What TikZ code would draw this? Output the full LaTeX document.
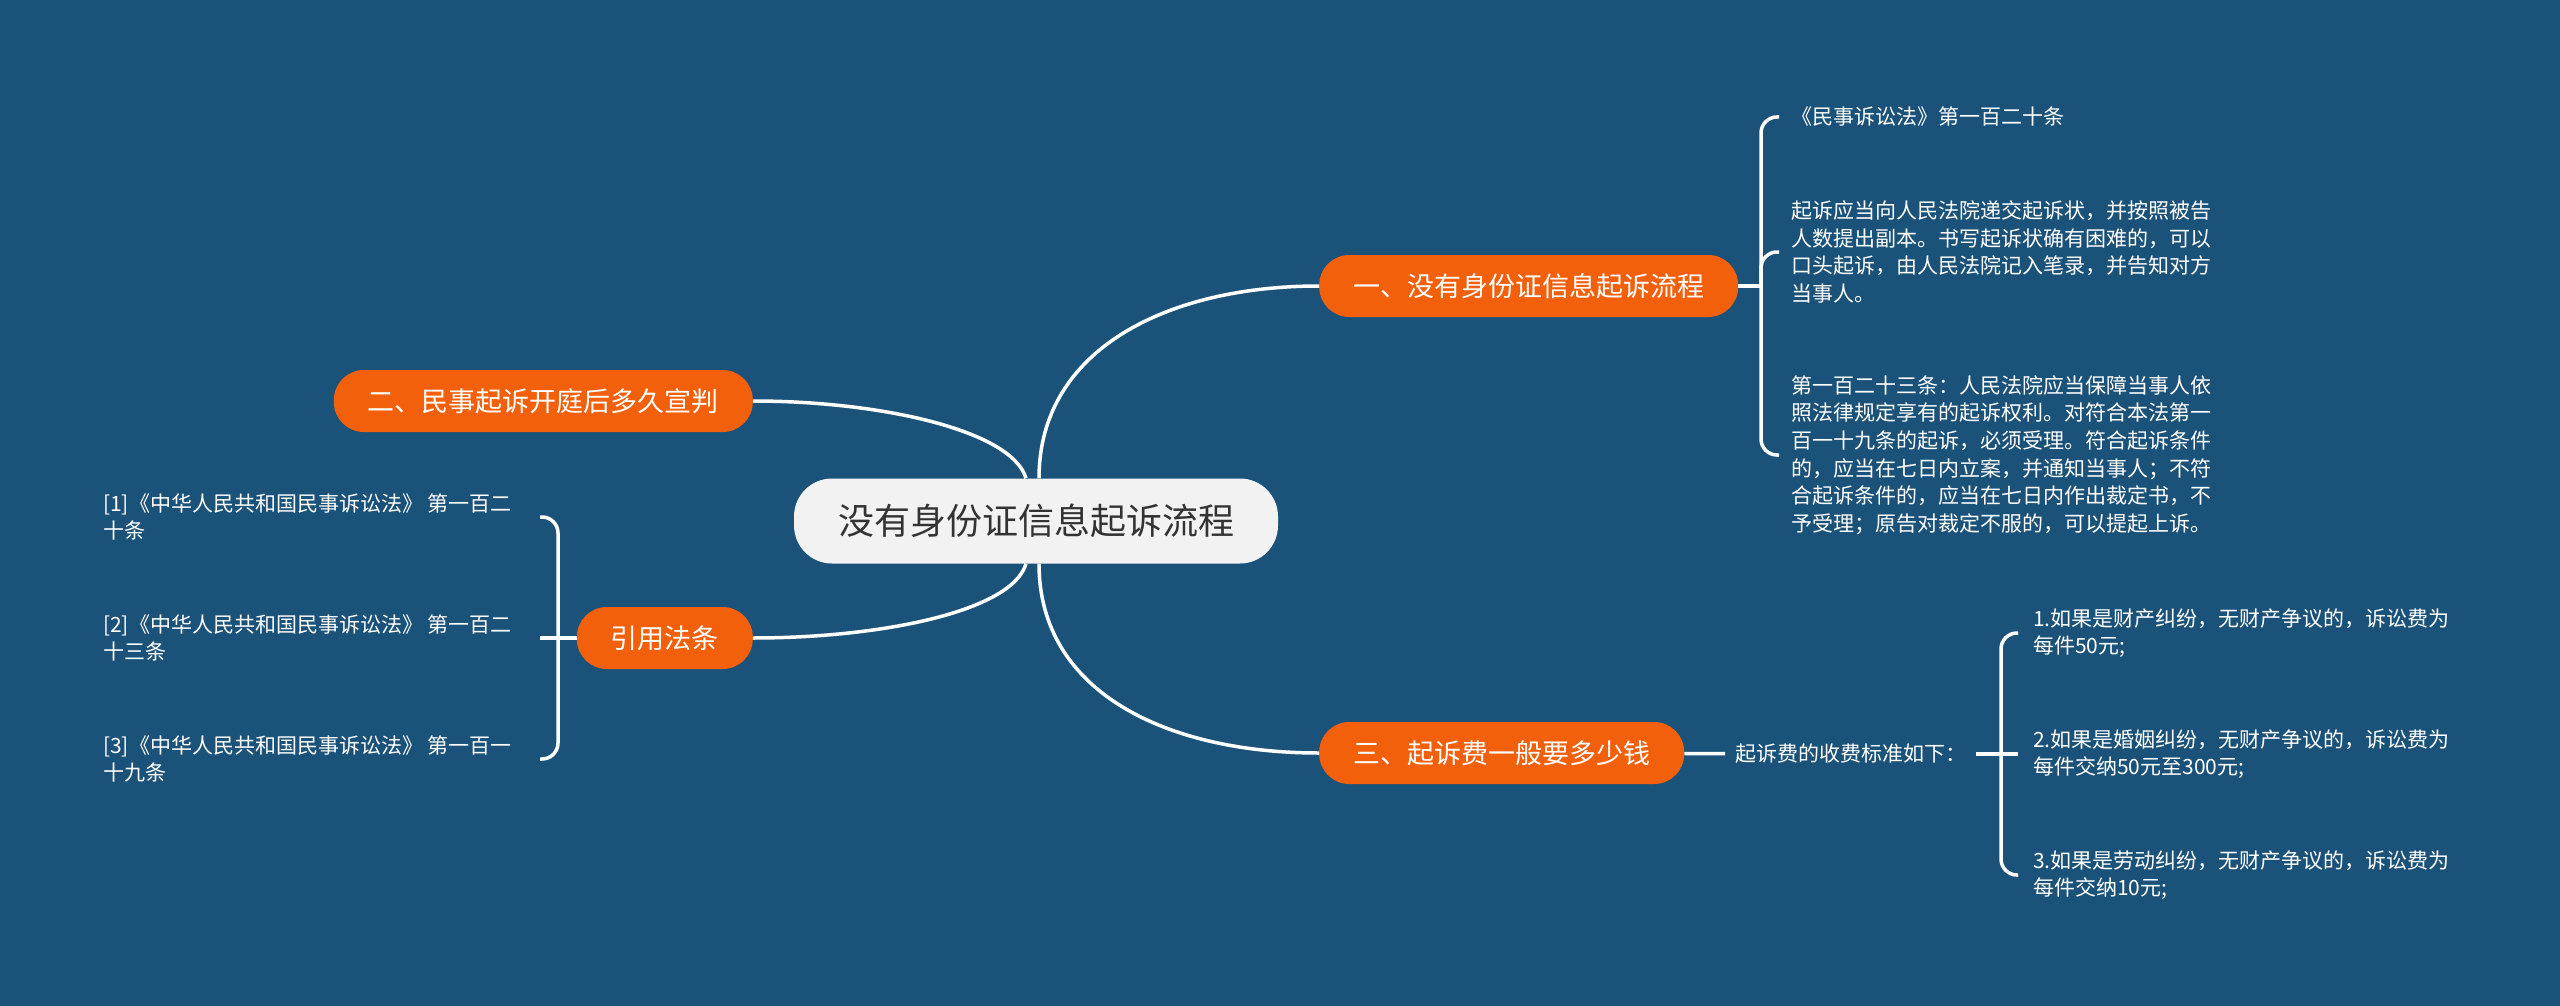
\documentclass[tikz,border=0pt]{standalone}
\usepackage{fontspec}
\setmainfont{Noto Sans CJK SC}
\usepackage{xcolor}
\usepackage{tikz}
\usetikzlibrary{positioning, calc}

\definecolor{fond}{HTML}{1B5279}
\definecolor{branche}{HTML}{F2600C}
\definecolor{racine}{HTML}{F2F2F2}
\definecolor{texte}{HTML}{333333}

\begin{document}
\begin{tikzpicture}[x=1pt, y=-1pt,
    root/.style={fill=racine, text=texte, rounded corners=38pt, minimum height=85pt, inner xsep=44pt, font=\fontsize{36}{40}\selectfont},
    topic/.style={fill=branche, text=white, rounded corners=30pt, minimum height=62pt, inner xsep=34pt, font=\fontsize{27}{30}\selectfont},
    leaf/.style={text=white, inner sep=0pt, anchor=west, align=left, font=\fontsize{21}{27.6}\selectfont},
    link/.style={draw=white, line width=3.5pt}]
    \useasboundingbox (0,0) rectangle (2560,1006);
    \fill[fond] (0,0) rectangle (2560,1006);

    % Noeud central
    \node[root] (root) at (1036,521) {没有身份证信息起诉流程};

    % Branches
    \node[topic, anchor=west] (b1) at (1319,286) {一、没有身份证信息起诉流程};
    \node[topic, anchor=east] (b2) at (753,401) {二、民事起诉开庭后多久宣判};
    \node[topic, anchor=east] (b4) at (753,638) {引用法条};
    \node[topic, anchor=west] (b3) at (1319,753) {三、起诉费一般要多少钱};

    % Feuilles (branche 1)
    \node[leaf] (p1) at (1791,117) {《民事诉讼法》第一百二十条};
    \node[leaf] (p2) at (1791,252) {起诉应当向人民法院递交起诉状，并按照被告\\人数提出副本。书写起诉状确有困难的，可以\\口头起诉，由人民法院记入笔录，并告知对方\\当事人。};
    \node[leaf] (p3) at (1791,455) {第一百二十三条：人民法院应当保障当事人依\\照法律规定享有的起诉权利。对符合本法第一\\百一十九条的起诉，必须受理。符合起诉条件\\的，应当在七日内立案，并通知当事人；不符\\合起诉条件的，应当在七日内作出裁定书，不\\予受理；原告对裁定不服的，可以提起上诉。};

    % Feuilles (引用法条)
    \node[leaf] (r1) at (103,517) {[1]《中华人民共和国民事诉讼法》 第一百二\\十条};
    \node[leaf] (r2) at (103,638) {[2]《中华人民共和国民事诉讼法》 第一百二\\十三条};
    \node[leaf] (r3) at (103,759) {[3]《中华人民共和国民事诉讼法》 第一百一\\十九条};

    % Feuilles (branche 3)
    \node[leaf, inner xsep=10pt] (s1) at (1725,754) {起诉费的收费标准如下：};
    \node[leaf] (c1) at (2033,633) {1.如果是财产纠纷，无财产争议的，诉讼费为\\每件50元;};
    \node[leaf] (c2) at (2033,754) {2.如果是婚姻纠纷，无财产争议的，诉讼费为\\每件交纳50元至300元;};
    \node[leaf] (c3) at (2033,875) {3.如果是劳动纠纷，无财产争议的，诉讼费为\\每件交纳10元;};

    % Points des accolades
    \coordinate (ak) at (1761,286);
    \coordinate (ax) at (1779,0);
    \coordinate (lk) at (558,638);
    \coordinate (lx) at (540,0);
    \coordinate (ck) at (2001,754);
    \coordinate (cx) at (2018,0);

    % Liens
    \draw[link] ([xshift=3pt]root.north) .. controls +(0,-130) and +(-150,0) .. (b1.west);
    \draw[link] ([xshift=-10pt]root.north) .. controls +(-14,-48) and +(127,0) .. (b2.east);
    \draw[link] ([xshift=-10pt]root.south) .. controls +(-14,48) and +(127,0) .. (b4.east);
    \draw[link] ([xshift=3pt]root.south) .. controls +(0,130) and +(-150,0) .. (b3.west);

    \draw[link] (b1) -- (ak);
    \draw[link, rounded corners=16pt] (p1 -| ax) -| (ak) |- (p3 -| ax);
    \draw[link, rounded corners=16pt] (ak) |- (p2 -| ax);

    \draw[link] (b4) -- (r2 -| lx);
    \draw[link, rounded corners=16pt] (r1 -| lx) -| (lk) |- (r3 -| lx);

    \draw[link] (b3) -- (s1);
    \draw[link] (s1) -- (c2 -| cx);
    \draw[link, rounded corners=16pt] (c1 -| cx) -| (ck) |- (c3 -| cx);
\end{tikzpicture}
\end{document}
